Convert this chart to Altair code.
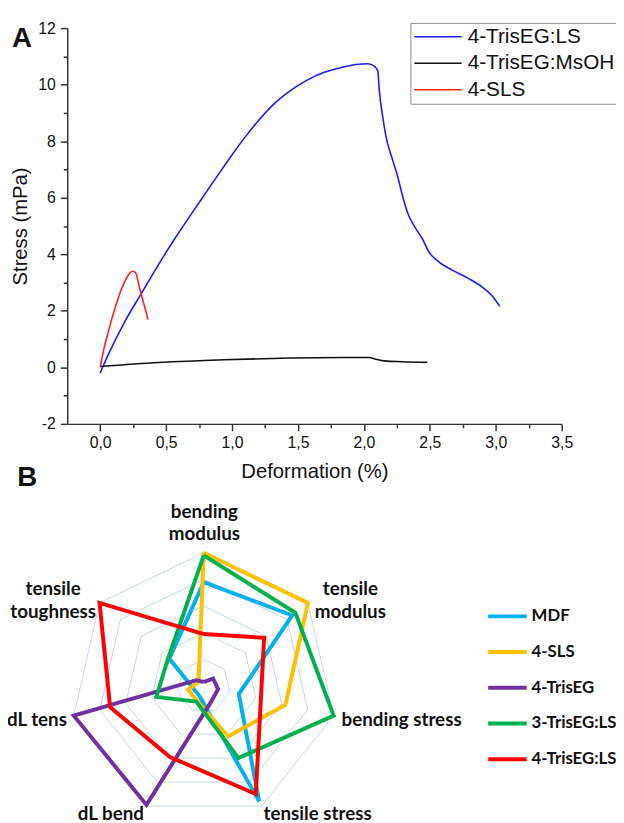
import altair as alt
import pandas as pd

# ---------------- Panel A : stress / deformation curves ----------------
ls_x = [0.0, 0.063, 0.188, 0.313, 0.439, 0.564, 0.689, 0.764, 0.89, 0.99, 1.09, 1.19,
        1.316, 1.44, 1.566, 1.69, 1.817, 1.94, 2.03, 2.08, 2.105, 2.117, 2.143, 2.168,
        2.218, 2.256, 2.293, 2.331, 2.38, 2.444, 2.493, 2.568, 2.669, 2.794, 2.895, 2.97, 3.03]
ls_y = [-0.2, 0.47, 1.63, 2.62, 3.61, 4.54, 5.41, 5.92, 6.78, 7.45, 8.09, 8.67,
        9.31, 9.78, 10.15, 10.42, 10.59, 10.71, 10.74, 10.65, 10.48, 9.78, 8.85, 8.15,
        7.33, 6.75, 6.06, 5.47, 5.01, 4.54, 4.08, 3.73, 3.44, 3.14, 2.85, 2.54, 2.16]
msoh_x = [0.0, 0.44, 0.94, 1.44, 1.94, 2.04, 2.09, 2.155, 2.29, 2.48]
msoh_y = [0.03, 0.17, 0.27, 0.33, 0.35, 0.35, 0.29, 0.23, 0.20, 0.175]
sls_x = [0.0, 0.025, 0.063, 0.113, 0.163, 0.213, 0.243, 0.268, 0.30, 0.333, 0.363]
sls_y = [0.0, 0.58, 1.28, 2.10, 2.79, 3.26, 3.40, 3.35, 2.79, 2.21, 1.69]

series_a = ["4-TrisEG:LS", "4-TrisEG:MsOH", "4-SLS"]
colors_a = ["#1c1cff", "#111111", "#ff2020"]

x_ticks = [0, 0.25, 0.5, 0.75, 1, 1.25, 1.5, 1.75, 2, 2.25, 2.5, 2.75, 3, 3.25, 3.5]
y_ticks = [-2, -1, 0, 1, 2, 3, 4, 5, 6, 7, 8, 9, 10, 11, 12]

# ---------------- Panel B : radar ----------------
radar_axes = ["bending\nmodulus", "tensile\nmodulus", "bending stress", "tensile stress",
              "dL bend", "dL tens", "tensile\ntoughness"]
series_b = ["MDF", "4-SLS", "4-TrisEG", "3-TrisEG:LS", "4-TrisEG:LS"]
colors_b = ["#00b0f0", "#ffc000", "#7030a0", "#00b050", "#ff0000"]
mdf_vals = [0.78, 0.85, 0.27, 0.96, 0.08, 0.08, 0.33]
sls_vals = [1.0, 1.0, 0.63, 0.42, 0.12, 0.12, 0.05]
tris_vals = [0.03, 0.09, 0.11, 0.13, 0.99, 1.0, 0.07]
tris3ls_vals = [0.98, 0.88, 1.0, 0.60, 0.13, 0.365, 0.34]
tris4ls_vals = [0.39, 0.58, 0.44, 0.90, 0.59, 0.72, 1.0]
ring_levels = [0.2, 0.4, 0.6, 0.8, 1.0]

# ---------------- tables ----------------
rows_a = []
for name, xs, ys in zip(series_a, [ls_x, msoh_x, sls_x], [ls_y, msoh_y, sls_y]):
    for i, (xv, yv) in enumerate(zip(xs, ys)):
        rows_a.append({"series": name, "i": i, "deformation": xv, "stress": yv})
df_a = pd.DataFrame(rows_a)

n_ax = len(radar_axes)
rows_r = []
for name, vals in zip(series_b, [mdf_vals, sls_vals, tris_vals, tris3ls_vals, tris4ls_vals]):
    for k in range(n_ax + 1):
        rows_r.append({"series": name, "k": k, "v": vals[k % n_ax]})
df_r = pd.DataFrame(rows_r)

rows_g = []
for lv in ring_levels:
    for k in range(n_ax + 1):
        rows_g.append({"ring": lv, "k": k, "v": lv})
df_g = pd.DataFrame(rows_g)

df_l = pd.DataFrame({"k": list(range(n_ax)), "text": radar_axes, "v": [ring_levels[-1]] * n_ax})

# ---------------- panel A chart ----------------
FONT_A = "Liberation Sans"
x_axis_a = alt.Axis(
    values=x_ticks,
    labelExpr="datum.value % 0.5 === 0 ? replace(format(datum.value, '.1f'), '.', ',') : ''",
    tickSize={"condition": {"test": "datum.value % 0.5 === 0", "value": 7}, "value": 4},
    tickWidth=1.5, tickColor="#333", domainColor="#333", domainWidth=1.5,
    labelFont=FONT_A, labelFontSize=16, labelColor="#111", labelPadding=4,
    labelOverlap=False, labelFlush=False, grid=False,
    titleFont=FONT_A, titleFontSize=20.5, titleFontWeight="normal", titleColor="#111",
    titleX=250.5, titleY=48, titleAlign="center", titleBaseline="middle",
)
y_axis_a = alt.Axis(
    values=y_ticks,
    labelExpr="datum.value % 2 === 0 ? datum.value + '' : ''",
    tickSize={"condition": {"test": "datum.value % 2 === 0", "value": 7}, "value": 4},
    tickWidth=1.5, tickColor="#333", domainColor="#333", domainWidth=1.5,
    labelFont=FONT_A, labelFontSize=16, labelColor="#111", labelPadding=5,
    labelOverlap=False, labelFlush=False, grid=False,
    titleFont=FONT_A, titleFontSize=20.5, titleFontWeight="normal", titleColor="#111",
    titleX=-47, titleY=200.5, titleAngle=-90, titleAlign="center", titleBaseline="middle",
)
legend_a = alt.Legend(
    orient="none", legendX=347.7, legendY=-5.3, title=None,
    symbolType="stroke", symbolSize=2304, symbolStrokeWidth=1.6,
    clipHeight=22, rowPadding=4.9, labelFont=FONT_A, labelFontSize=21,
    labelColor="#111", labelOffset=5, labelLimit=300, padding=3,
    strokeColor="#8c8c8c", fillColor="white",
)
line_a = alt.Chart(df_a).mark_line(strokeWidth=1.6, interpolate="monotone").encode(
    x=alt.X("deformation:Q", title="Deformation (%)",
            scale=alt.Scale(domain=[-0.25, 3.5], nice=False, zero=False), axis=x_axis_a),
    y=alt.Y("stress:Q", title="Stress (mPa)",
            scale=alt.Scale(domain=[-2, 12], nice=False, zero=False), axis=y_axis_a),
    color=alt.Color("series:N", scale=alt.Scale(domain=series_a, range=colors_a), legend=legend_a),
    order=alt.Order("i:Q"),
)

# ---------------- panel B chart ----------------
FONT_B = "Lato"
x_r = alt.X("rx:Q", title="B",
            scale=alt.Scale(domain=[-1.0244, 2.6867], nice=False, zero=False),
            axis=alt.Axis(orient="top", labels=False, ticks=False, domain=False, grid=False,
                          titleFont=FONT_A, titleFontSize=28, titleFontWeight="bold",
                          titleColor="#111", titleX=-41, titleY=455, titleAngle=0,
                          titleAlign="center", titleBaseline="middle"))
y_r = alt.Y("ry:Q", scale=alt.Scale(domain=[1.967, 4.937], nice=False, zero=False), axis=None)


def polar(ch):
    return ch.transform_calculate(ang=f"PI/2 - datum.k*2*PI/{n_ax}").transform_calculate(
        rx="datum.v*cos(datum.ang)", ry="datum.v*sin(datum.ang)")


grid = polar(alt.Chart(df_g)).mark_line(color="#c2d5ee", strokeWidth=1).encode(
    x=x_r, y=y_r, detail="ring:N", order=alt.Order("k:Q"))

legend_b = alt.Legend(
    orient="none", legendX=424.5, legendY=586, title=None,
    symbolType="stroke", symbolSize=1521, symbolStrokeWidth=4,
    clipHeight=20, rowPadding=16.2, labelFont=FONT_B, labelFontSize=17,
    labelFontWeight="bold", labelColor="#111", labelOffset=3, labelLimit=300, padding=0,
)
radar_lines = polar(alt.Chart(df_r)).mark_line(strokeWidth=4, strokeJoin="miter").encode(
    x=x_r, y=y_r,
    color=alt.Color("series:N", scale=alt.Scale(domain=series_b, range=colors_b), legend=legend_b),
    order=alt.Order("k:Q"),
)

label_style = {
    0: dict(align="center", dx=0.7, dy=-41.5),
    1: dict(align="center", dx=43, dy=-14),
    2: dict(align="left", dx=8, dy=4),
    3: dict(align="left", dx=2, dy=8.5),
    4: dict(align="right", dx=-2, dy=8.5),
    5: dict(align="right", dx=-7, dy=4),
    6: dict(align="center", dx=-47, dy=-14),
}
label_layers = []
for k, st in label_style.items():
    label_layers.append(
        polar(alt.Chart(df_l).transform_filter(f"datum.k == {k}")).mark_text(
            font=FONT_B, fontSize=19, fontWeight="bold", color="#111",
            baseline="middle", lineBreak="\n", lineHeight=23, **st
        ).encode(x=x_r, y=y_r, text="text:N")
    )

radar = alt.layer(grid, radar_lines, *label_layers)

chart = alt.layer(line_a, radar).resolve_scale(
    x="independent", y="independent", color="independent"
).properties(
    width=501, height=401,
    autosize=alt.AutoSizeParams(type="none"),
    padding={"left": 60, "top": 15, "right": 55, "bottom": 399},
    title=alt.TitleParams(text="A", anchor="start", frame="group", orient="top",
                          font=FONT_A, fontSize=28, fontWeight="bold", color="#111",
                          baseline="top", offset=0, dx=-56, dy=33),
).configure_view(stroke=None)

chart.save("out.html", embed_options={"renderer": "svg", "actions": False})
